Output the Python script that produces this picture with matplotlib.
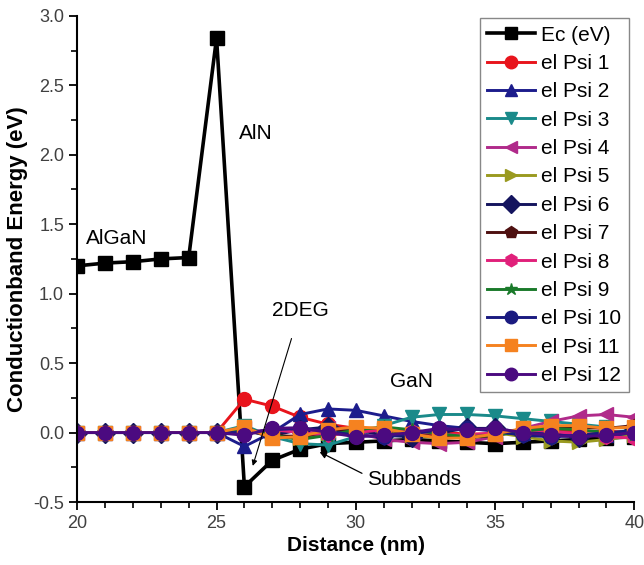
import numpy as np
import matplotlib
matplotlib.use('Agg')
from matplotlib import pyplot as plt
from matplotlib.ticker import MultipleLocator

plt.rcParams['font.family'] = ['Liberation Sans', 'DejaVu Sans']
plt.rcParams['axes.unicode_minus'] = False

x = list(range(20, 41))

# conduction band edge
ec = [1.20, 1.22, 1.23, 1.25, 1.26, 2.84, -0.39, -0.20, -0.12, -0.08, -0.07,
      -0.06, -0.05, -0.06, -0.07, -0.08, -0.07, -0.06, -0.05, -0.04, -0.03]

# wavefunctions, zero in the barrier (20..25), then values for 26..40
flat = [0.0] * 6
psi1 = flat + [0.24, 0.19, 0.11, 0.06, 0.03, 0.02, 0.01, 0.0, -0.01, -0.01, 0.0, 0.01, 0.01, 0.01, 0.0]
psi2 = flat + [-0.10, 0.0, 0.13, 0.17, 0.16, 0.12, 0.08, 0.05, 0.03, 0.02, 0.0, -0.01, -0.02, -0.02, -0.01]
psi3 = flat + [0.05, -0.03, -0.08, -0.09, -0.03, 0.05, 0.11, 0.13, 0.13, 0.12, 0.10, 0.08, 0.06, 0.04, 0.03]
psi4 = flat + [0.03, -0.04, -0.02, 0.03, 0.0, -0.05, -0.07, -0.08, -0.07, -0.03, 0.03, 0.08, 0.12, 0.13, 0.11]
psi5 = flat + [0.02, -0.03, -0.04, 0.0, 0.03, 0.02, -0.02, -0.04, -0.03, 0.0, -0.03, -0.06, -0.07, -0.05, -0.02]
psi6 = flat + [0.01, -0.02, 0.02, 0.04, 0.02, -0.02, -0.03, 0.0, 0.03, 0.03, 0.0, -0.02, -0.03, -0.01, 0.02]
psi7 = flat + [0.02, -0.02, -0.03, 0.0, 0.02, 0.02, 0.0, -0.03, -0.04, -0.02, 0.02, 0.04, 0.04, 0.03, 0.05]
psi8 = flat + [0.0, 0.02, 0.0, -0.02, 0.0, 0.02, 0.01, -0.01, -0.02, 0.0, 0.02, 0.01, -0.01, -0.03, -0.04]
psi9 = flat + [0.03, -0.02, -0.05, -0.02, 0.02, 0.04, 0.02, -0.01, -0.03, -0.02, 0.01, 0.03, 0.02, 0.0, -0.01]
psi10 = flat + [0.0, 0.02, 0.03, 0.01, -0.02, -0.03, -0.01, 0.02, 0.03, 0.01, -0.02, -0.03, -0.02, 0.0, 0.01]
psi11 = flat + [0.04, -0.04, -0.03, 0.02, 0.04, 0.03, -0.01, -0.04, -0.04, -0.01, 0.03, 0.05, 0.05, 0.03, 0.04]
psi12 = flat + [-0.02, 0.03, 0.035, 0.0, -0.03, -0.02, 0.0, 0.03, 0.02, 0.03, 0.0, -0.02, -0.03, -0.02, 0.0]

labels = ['Ec (eV)'] + ['el Psi %d' % i for i in range(1, 13)]
series = [ec, psi1, psi2, psi3, psi4, psi5, psi6, psi7, psi8, psi9, psi10, psi11, psi12]
colors = ['#000000', '#e8141c', '#1c1c8c', '#1a8a8a', '#b02a8a', '#9a9a20', '#14145e',
          '#4e1010', '#e0207a', '#1a7a2a', '#1a1a80', '#f58220', '#4b0a80']
markers = ['s', 'o', '^', 'v', '<', '>', 'D', 'p', 'h', '*', 'o', 's', 'o']

fig = plt.figure(figsize=(6.44, 5.65), dpi=100)
ax = fig.add_axes([0.12, 0.1115, 0.865, 0.8605])

for i, (y, lab, c, m) in enumerate(zip(series, labels, colors, markers)):
    lw = 2.6 if i == 0 else 2.1
    ax.plot(x, y, color=c, marker=m, markersize=10, linewidth=lw, label=lab,
            markeredgecolor=c)

ax.set_xlim(20, 40)
ax.set_ylim(-0.5, 3.0)
ax.xaxis.set_major_locator(MultipleLocator(5))
ax.xaxis.set_minor_locator(MultipleLocator(1))
ax.yaxis.set_major_locator(MultipleLocator(0.5))
ax.yaxis.set_minor_locator(MultipleLocator(0.25))
ax.tick_params(which='major', direction='out', length=6, width=1.3, labelsize=13,
               labelcolor='#404040')
ax.tick_params(which='minor', direction='out', length=4, width=1.2)
ax.spines['top'].set_visible(False)
ax.spines['right'].set_visible(False)
ax.spines['left'].set_linewidth(1.5)
ax.spines['bottom'].set_linewidth(1.5)

ax.set_xlabel('Distance (nm)', fontsize=15, fontweight='bold', labelpad=3)
ax.set_ylabel('Conductionband Energy (eV)', fontsize=16, fontweight='bold', labelpad=4)

ax.text(21.4, 1.4, 'AlGaN', fontsize=15, ha='center', va='center')
ax.text(26.4, 2.15, 'AlN', fontsize=15, ha='center', va='center')
ax.text(32.0, 0.37, 'GaN', fontsize=15, ha='center', va='center')
ax.annotate('2DEG', xy=(26.3, -0.24), xytext=(28.0, 0.88), fontsize=15,
            ha='center', va='center',
            arrowprops=dict(arrowstyle='-|>', color='black', lw=0.8,
                            shrinkA=12, shrinkB=0, mutation_scale=8))
ax.annotate('Subbands', xy=(28.7, -0.14), xytext=(32.1, -0.34), fontsize=15,
            ha='center', va='center',
            arrowprops=dict(arrowstyle='-|>', color='black', lw=0.9,
                            shrinkA=2, shrinkB=0, mutation_scale=10,
                            relpos=(0.0, 0.7)))

leg = ax.legend(loc='upper right', bbox_to_anchor=(0.99, 0.995), borderaxespad=0,
                fontsize=15, handlelength=2.3, labelspacing=0.45, frameon=True,
                fancybox=False, edgecolor='#888888', framealpha=1,
                handletextpad=0.3, borderpad=0.35, markerscale=0.9)
leg.get_frame().set_linewidth(1.0)

fig.savefig('out.png', dpi=100)
